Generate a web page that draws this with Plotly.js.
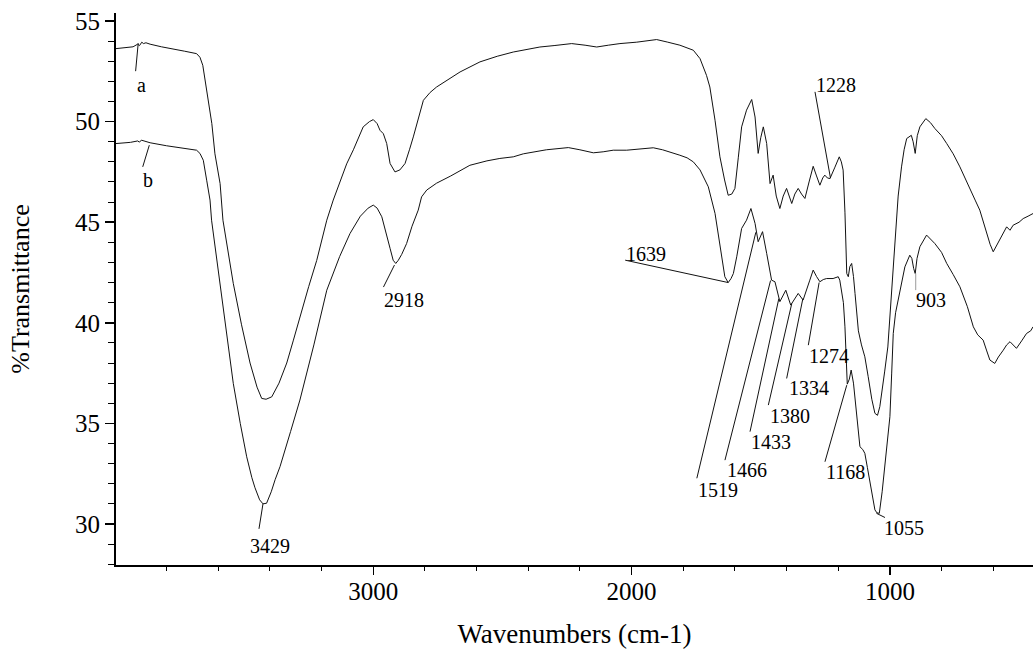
<!DOCTYPE html>
<html>
<head>
<meta charset="utf-8">
<script src="https://cdn.plot.ly/plotly-3.0.1.min.js"></script>
<style>html,body{margin:0;padding:0;background:#fff;}#chart{width:1033px;height:649px;}</style>
</head>
<body>
<div id="chart"></div>
<script>
// Curve a (upper spectrum): wavenumber (cm-1) and %T
const aWn = [3996,3960,3930,3912,3905,3896,3890,3880,3864,3820,3787,3730,3684,3671,3660,3651,3639,3625,3613,3593,3582,3560,3542,3510,3477,3450,3432,3415,3393,3365,3335,3310,3284,3250,3219,3180,3155,3116,3103,3077,3039,3015,3000,2985,2974,2961,2948,2935,2916,2897,2877,2860,2845,2806,2780,2755,2710,2664,2587,2520,2458,2400,2355,2300,2232,2180,2135,2090,2045,1980,1903,1860,1813,1761,1735,1710,1697,1677,1658,1640,1626,1612,1600,1587,1574,1555,1535,1522,1510,1500,1490,1477,1464,1452,1440,1426,1413,1400,1390,1380,1368,1355,1342,1329,1313,1297,1284,1271,1260,1252,1242,1232,1214,1196,1188,1181,1174,1167,1161,1155,1148,1141,1135,1122,1110,1097,1084,1070,1058,1048,1039,1030,1020,1008,996,981,968,955,945,935,917,910,902,894,884,861,843,826,800,780,755,729,710,690,670,652,640,626,612,600,585,567,548,535,523,500,484,465,446];
const aT  = [53.63,53.68,53.72,53.85,53.78,53.95,53.88,53.92,53.85,53.72,53.65,53.5,53.38,53.2,52.8,52.06,51.23,49.9,48.4,46.92,45.1,43.3,41.96,39.9,38.0,36.8,36.24,36.2,36.32,37.0,38.0,39.1,40.3,41.8,43.1,45.1,46.1,47.4,47.9,48.6,49.74,50.0,50.1,49.9,49.57,49.4,48.91,47.92,47.5,47.6,47.92,48.6,49.24,51.06,51.45,51.72,52.1,52.47,52.97,53.25,53.46,53.6,53.71,53.78,53.88,53.8,53.71,53.8,53.88,53.95,54.08,53.95,53.8,53.55,53.13,52.3,51.72,50.07,48.25,47.1,46.34,46.4,46.68,48.2,49.74,50.57,51.1,50.23,48.42,49.2,49.74,48.91,46.92,47.34,46.3,45.68,46.3,46.68,46.3,45.93,46.4,46.68,46.4,46.18,47.0,47.78,47.3,46.84,47.2,47.34,47.2,47.17,47.7,48.25,48.0,47.59,45.5,42.45,42.29,42.8,42.95,42.3,41.46,39.6,38.9,38.31,37.32,36.2,35.5,35.4,35.83,36.6,37.6,38.8,41.0,44.0,46.3,47.75,48.6,49.16,49.32,49.0,48.42,49.3,49.74,50.15,49.95,49.66,49.3,48.91,48.4,47.75,47.2,46.59,46.1,45.6,45.1,44.44,43.9,43.53,43.9,44.27,44.77,44.6,44.85,45.0,45.18,45.3,45.43];

// Curve b (lower spectrum)
const bWn = [3996,3940,3912,3905,3898,3880,3864,3800,3730,3684,3671,3658,3645,3632,3626,3610,3593,3570,3542,3515,3490,3470,3458,3440,3427,3413,3395,3380,3361,3320,3284,3230,3180,3130,3090,3050,3020,3000,2985,2967,2950,2935,2923,2913,2903,2890,2871,2850,2826,2813,2793,2755,2700,2626,2560,2510,2458,2419,2330,2245,2200,2148,2110,2071,2019,1960,1916,1880,1839,1813,1785,1761,1735,1703,1677,1658,1645,1639,1626,1615,1606,1593,1574,1555,1538,1522,1510,1493,1477,1458,1445,1426,1403,1384,1355,1336,1310,1297,1284,1271,1258,1245,1220,1200,1194,1180,1174,1165,1157,1150,1141,1135,1125,1116,1105,1097,1087,1077,1065,1058,1050,1041,1030,1020,1010,1000,993,987,978,968,955,942,923,915,908,902,895,884,858,840,826,800,780,755,729,700,677,660,639,625,613,594,580,561,548,535,522,510,490,471,455,446];
const bT  = [48.91,48.97,49.04,48.98,49.08,49.0,48.95,48.8,48.68,48.58,48.42,48.08,47.09,46.1,45.1,43.5,41.96,39.6,36.99,35.0,33.34,32.3,31.8,31.2,31.0,31.03,31.6,32.2,32.85,34.6,36.16,38.9,41.62,43.3,44.44,45.3,45.7,45.85,45.7,45.27,44.5,43.7,43.11,42.95,43.11,43.4,43.94,44.8,45.6,46.26,46.6,46.94,47.3,47.83,48.05,48.17,48.25,48.4,48.6,48.71,48.6,48.45,48.5,48.58,48.58,48.65,48.7,48.6,48.45,48.33,48.2,48.0,47.6,46.76,45.44,43.78,42.8,42.29,42.0,42.2,42.45,43.28,44.69,45.1,45.68,44.94,44.03,44.53,43.45,42.12,42.04,41.05,41.62,40.88,41.46,41.13,42.12,42.62,42.3,42.04,42.15,42.2,42.2,42.29,42.12,41.0,39.8,36.95,37.2,37.65,37.0,36.16,35.0,33.84,33.7,33.51,32.8,32.02,31.2,30.7,30.55,30.53,31.6,32.85,34.0,35.33,37.5,39.47,40.5,41.13,42.0,42.78,43.36,43.2,42.7,42.45,43.2,43.78,44.36,44.1,43.94,43.5,42.95,42.4,41.79,40.8,39.8,39.4,39.14,38.6,38.15,37.98,38.3,38.64,38.9,39.06,38.9,38.73,39.1,39.47,39.6,39.8];

// Peak labels: text, wavenumber of the pointed position, %T there
const peakLabels = ['a','b','3429','2918','1639','1519','1466','1433','1380','1334','1274','1228','1168','1055','903'];
const peakWn = [3910,3867,3427,2918,1626,1519,1462,1430,1380,1337,1274,1230,1167,1052,900];
const peakT  = [53.9,48.83,31.0,42.87,42.0,44.5,42.1,41.2,40.95,41.2,42.0,47.19,36.9,30.53,42.45];

const xTickVals = [3000,2000,1000];
const yTickVals = [30,35,40,45,50,55];

// Layout-only: leader line end and text centre offsets in screen pixels (down positive)
const lineOff = [[-2.6,28],[-6.6,21.7],[-4,25],[-11,22],[-103,-22.4],[-59,246],[-45.6,179.6],[-28.8,133],[-23.4,101.4],[-16.2,79.8],[-10.8,62.6],[-15.5,-86.3],[-21.8,76.6],[8.5,4.2],[0,16.6]];
const textOff = [[3.4,41.7],[-1.6,35],[7,42],[10,35],[-82,-29],[-38,258],[-23.6,189.6],[-7.6,143],[-1.4,112],[5.9,89.2],[10.2,73.3],[5.8,-93],[-0.8,87.2],[27.5,14.7],[14.8,26.6]];

const FONT = 'Liberation Serif';
const X_RANGE = [3996, 446];

const traces = [
  {x: aWn, y: aT, type: 'scatter', mode: 'lines', line: {color: '#111', width: 1}, hoverinfo: 'skip'},
  {x: bWn, y: bT, type: 'scatter', mode: 'lines', line: {color: '#111', width: 1}, hoverinfo: 'skip'},
  // carrier for the overlay axis that draws the long major x ticks
  {x: xTickVals, y: yTickVals.slice(0, 3), xaxis: 'x2', type: 'scatter', mode: 'none', hoverinfo: 'skip', showlegend: false}
];

const shapes = peakLabels.map((lab, i) => ({
  type: 'line', xref: 'x', yref: 'y', xsizemode: 'pixel', ysizemode: 'pixel',
  xanchor: peakWn[i], yanchor: peakT[i],
  x0: 0, y0: 0, x1: lineOff[i][0], y1: -lineOff[i][1],
  line: {color: lab === '903' ? '#9a9a9a' : '#111', width: 1}
}));

const annotations = peakLabels.map((lab, i) => ({
  x: peakWn[i], y: peakT[i], xref: 'x', yref: 'y', text: lab, showarrow: false,
  xshift: textOff[i][0], yshift: -textOff[i][1], xanchor: 'center', yanchor: 'middle',
  font: {family: FONT, size: 20, color: '#000'}
}));

const layout = {
  width: 1033, height: 649,
  margin: {l: 116, r: 0, t: 13, b: 84},
  paper_bgcolor: '#fff', plot_bgcolor: '#fff',
  showlegend: false,
  font: {family: FONT, color: '#000', size: 20},
  xaxis: {
    range: X_RANGE, autorange: false, showgrid: false, zeroline: false,
    showline: true, linecolor: '#000', linewidth: 2,
    ticks: 'outside', ticklen: 3, tickwidth: 1.5, tickcolor: '#000',
    tickvals: xTickVals, ticktext: xTickVals.map(String),
    tickfont: {family: FONT, size: 25, color: '#000'},
    minor: {dtick: 200, tick0: 0, ticks: 'outside', ticklen: 4, tickwidth: 1, tickcolor: '#000', showgrid: false},
    title: {text: 'Wavenumbers (cm-1)', font: {family: FONT, size: 27, color: '#000'}, standoff: 26}
  },
  xaxis2: {
    overlaying: 'x', anchor: 'y', side: 'bottom',
    range: X_RANGE, autorange: false, showgrid: false, zeroline: false, showline: false,
    ticks: 'outside', ticklen: 9, tickwidth: 1.5, tickcolor: '#000',
    tickvals: xTickVals, showticklabels: false
  },
  yaxis: {
    range: [27.96, 55.4], autorange: false, showgrid: false, zeroline: false,
    showline: true, linecolor: '#000', linewidth: 2,
    ticks: 'outside', ticklen: 9, tickwidth: 1.5, tickcolor: '#000',
    tickvals: yTickVals, ticktext: yTickVals.map(String),
    tickfont: {family: FONT, size: 25, color: '#000'},
    minor: {dtick: 1, tick0: 0, ticks: 'outside', ticklen: 6, tickwidth: 1, tickcolor: '#000', showgrid: false},
    title: {text: '%Transmittance', font: {family: FONT, size: 26, color: '#000'}, standoff: 38}
  },
  shapes: shapes,
  annotations: annotations
};

Plotly.newPlot('chart', traces, layout, {staticPlot: true, displayModeBar: false});
</script>
</body>
</html>
